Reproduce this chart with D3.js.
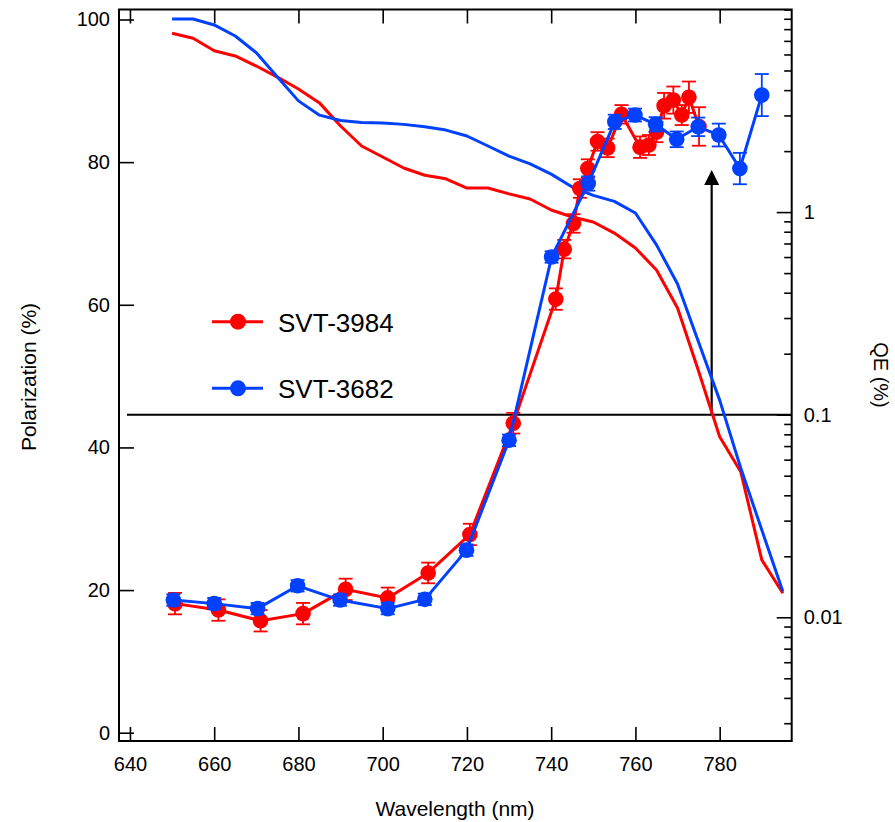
<!DOCTYPE html>
<html><head><meta charset="utf-8">
<script src="https://cdn.jsdelivr.net/npm/d3@7/dist/d3.min.js"></script>
<style>body{margin:0;background:#fff} svg text{font-family:"Liberation Sans",Arial,sans-serif;fill:#000}</style>
</head><body><svg id="c" width="895" height="822"></svg>
<script>
// ---------- data ----------
const qeWavelengths = [650,655,660,665,670,675,680,685,690,695,700,705,710,715,720,725,730,735,740,745,750,755,760,765,770,775,780,785,790,795];
const qeSVT3984 = [7.63,7.21,6.26,5.90,5.26,4.64,4.05,3.46,2.66,2.12,1.87,1.65,1.52,1.46,1.315,1.315,1.23,1.16,1.024,0.946,0.894,0.788,0.665,0.518,0.336,0.164,0.0778,0.0523,0.0192,0.01314];
const qeSVT3682 = [8.98,8.98,8.39,7.40,6.12,4.64,3.54,3.01,2.83,2.77,2.75,2.71,2.64,2.54,2.375,2.12,1.89,1.73,1.54,1.33,1.21,1.13,0.99,0.689,0.442,0.228,0.118,0.0546,0.0270,0.0134];

const polWlSVT3984 = [650.7,661.0,671.0,681.1,691.2,701.2,710.8,720.7,731.0,741.1,743.1,745.3,746.8,748.7,751.0,753.4,756.7,761.1,763.2,765.0,766.8,769.0,771.0,772.7,775.1];
const polSVT3984 = [18.1,17.2,15.7,16.7,20.1,18.9,22.4,27.8,43.4,60.8,67.8,71.4,76.3,79.1,82.9,82.0,86.7,82.1,82.4,84.2,87.9,88.7,86.6,89.1,85.0];
const polErrSVT3984 = [1.5,1.5,1.5,1.5,1.5,1.45,1.45,1.5,1.45,1.5,1.3,1.3,1.3,1.3,1.3,1.3,1.3,1.5,1.4,1.4,1.8,1.9,1.4,2.2,2.7];

const polWlSVT3682 = [650.3,660.0,670.3,679.8,689.9,701.2,710.0,719.9,730.0,740.1,748.8,755.1,759.9,764.8,769.8,774.9,779.8,784.8,790.0];
const polSVT3682 = [18.6,18.1,17.4,20.6,18.6,17.4,18.7,25.6,41.0,66.7,77.0,85.65,86.6,85.3,83.2,84.95,83.8,79.1,89.4];
const polErrSVT3682 = [0.8,0.8,0.8,0.8,0.8,0.8,0.8,0.8,0.8,0.8,1.0,1.0,0.9,1.0,1.1,1.3,1.6,2.2,2.95];

const seriesNames = ["SVT-3984","SVT-3682"];
const seriesColors = ["#ff0000","#0040ff"];

const xTicks = [640,660,680,700,720,740,760,780];
const yLeftTicks = [0,20,40,60,80,100];
const yRightMajor = [0.01,0.1,1];
const yRightLabels = ["0.01","0.1","1"];

const xTitle = "Wavelength (nm)";
const yLeftTitle = "Polarization (%)";
const yRightTitle = "QE (%)";

const refQE = 0.1;          // horizontal reference line
const refStartWl = 639.3;   // where the reference line starts
const arrowWl = 778.1;      // arrow position
const arrowTopPol = 78.9;   // arrow tip (polarization units)

// ---------- layout ----------
const L = 119, R = 791.7, T = 9.5, B = 741;
const svg = d3.select("#c");

const x = d3.scaleLinear().domain([637.4, 797.1]).range([L, R]);
const yL = d3.scaleLinear().domain([-1.16, 101.4]).range([B, T]);
const yR = d3.scaleLog().domain([0.002451, 10]).range([B, T]);

// ---------- axes ----------
const fs = 20;
const gxB = svg.append("g").attr("transform",`translate(0,${B})`)
  .call(d3.axisBottom(x).tickValues(xTicks).tickSize(-14).tickPadding(16).tickFormat(d3.format("d")));
const gxT = svg.append("g").attr("transform",`translate(0,${T})`)
  .call(d3.axisTop(x).tickValues(xTicks).tickSize(-14).tickFormat(""));
const gyL = svg.append("g").attr("transform",`translate(${L},0)`)
  .call(d3.axisLeft(yL).tickValues(yLeftTicks).tickSize(-15).tickPadding(9).tickFormat(d3.format("d")));
const rightTicks = yR.ticks().filter(v => v >= 0.0025 && v <= 10);
const gyR = svg.append("g").attr("transform",`translate(${R},0)`)
  .call(d3.axisRight(yR).tickValues(rightTicks).tickSize(-15).tickPadding(12)
    .tickFormat(v => { const i = yRightMajor.findIndex(m => Math.abs(m - v) < 1e-9); return i >= 0 ? yRightLabels[i] : ""; }));
gyR.selectAll(".tick line").attr("x2", v => yRightMajor.some(m => Math.abs(m - v) < 1e-9) ? -15 : -7.5);

[gxB,gxT,gyL,gyR].forEach(g => {
  g.select(".domain").remove();
  g.selectAll(".tick line").attr("stroke","#000").attr("stroke-width",1.6);
  g.selectAll(".tick text").attr("font-size",fs).attr("fill","#000");
});

// frame
svg.append("rect").attr("x",L).attr("y",T).attr("width",R-L).attr("height",B-T)
  .attr("fill","none").attr("stroke","#000").attr("stroke-width",2);

// titles
svg.append("text").attr("x",455).attr("y",816).attr("text-anchor","middle").attr("font-size",21).text(xTitle);
svg.append("text").attr("transform","translate(36,377) rotate(-90)").attr("text-anchor","middle").attr("font-size",21).text(yLeftTitle);
svg.append("text").attr("transform","translate(874,375) rotate(90)").attr("text-anchor","middle").attr("font-size",20).text(yRightTitle);

// ---------- reference line & arrow ----------
svg.append("line").attr("x1",x(refStartWl)).attr("x2",R).attr("y1",yR(refQE)).attr("y2",yR(refQE))
  .attr("stroke","#000").attr("stroke-width",2);
const ax = x(arrowWl), atop = yL(arrowTopPol);
svg.append("line").attr("x1",ax).attr("x2",ax).attr("y1",yR(refQE)).attr("y2",atop+14)
  .attr("stroke","#000").attr("stroke-width",2.2);
svg.append("path").attr("d",`M${ax},${atop} L${ax-7.5},${atop+15} L${ax+7.5},${atop+15} Z`).attr("fill","#000");

// ---------- QE curves ----------
const qeLine = d3.line().x((d,i)=>x(qeWavelengths[i])).y(d=>yR(d));
[qeSVT3984, qeSVT3682].forEach((s,k) => {
  svg.append("path").datum(s).attr("d",qeLine).attr("fill","none")
    .attr("stroke",seriesColors[k]).attr("stroke-width",3).attr("stroke-linejoin","round");
});

// ---------- polarization series ----------
const polSeries = [
  {wl: polWlSVT3984, v: polSVT3984, e: polErrSVT3984},
  {wl: polWlSVT3682, v: polSVT3682, e: polErrSVT3682}
];
polSeries.forEach((s,k) => {
  const col = seriesColors[k];
  const g = svg.append("g");
  const pts = s.v.map((v,i)=>({w:s.wl[i], v, e:s.e[i]}));
  g.append("path").datum(pts)
    .attr("d", d3.line().x(d=>x(d.w)).y(d=>yL(d.v)))
    .attr("fill","none").attr("stroke",col).attr("stroke-width",3).attr("stroke-linejoin","round");
  const eb = g.selectAll(".eb").data(pts).join("g");
  eb.append("line").attr("x1",d=>x(d.w)).attr("x2",d=>x(d.w))
    .attr("y1",d=>yL(d.v+d.e)).attr("y2",d=>yL(d.v-d.e)).attr("stroke",col).attr("stroke-width",1.8);
  [1,-1].forEach(sg => eb.append("line").attr("x1",d=>x(d.w)-7).attr("x2",d=>x(d.w)+7)
    .attr("y1",d=>yL(d.v+sg*d.e)).attr("y2",d=>yL(d.v+sg*d.e)).attr("stroke",col).attr("stroke-width",1.8));
  g.selectAll("circle").data(pts).join("circle")
    .attr("cx",d=>x(d.w)).attr("cy",d=>yL(d.v)).attr("r",7.8).attr("fill",col);
});

// ---------- legend ----------
const legY = [321.7, 388.3];
seriesNames.forEach((n,k) => {
  const g = svg.append("g");
  g.append("line").attr("x1",212).attr("x2",263).attr("y1",legY[k]).attr("y2",legY[k])
    .attr("stroke",seriesColors[k]).attr("stroke-width",3);
  g.append("circle").attr("cx",238).attr("cy",legY[k]).attr("r",8).attr("fill",seriesColors[k]);
  g.append("text").attr("x",278).attr("y",legY[k]+10).attr("font-size",26).text(n);
});
</script></body></html>
